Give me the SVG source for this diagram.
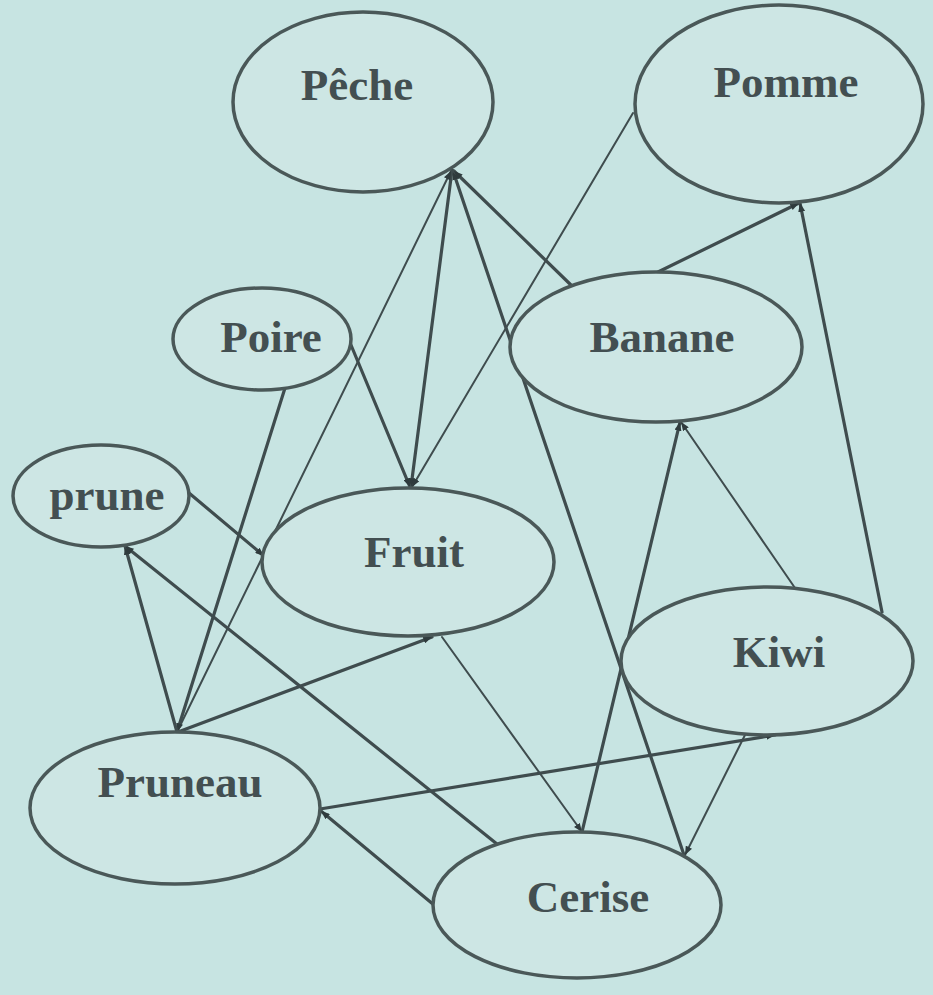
<svg xmlns="http://www.w3.org/2000/svg" width="933" height="995" viewBox="0 0 933 995">
<style>
.node ellipse{fill:#cde6e4;stroke:#4a5858;stroke-width:3.5}
.node text{font-family:"Liberation Serif","Times New Roman",serif;font-weight:bold;font-size:45px;fill:#434f51;text-anchor:middle}
.e{stroke:#3f4c4e;stroke-width:3.2;fill:none;stroke-linecap:round}
.t{stroke-width:2}
</style>
<defs>
<marker id="arr" viewBox="0 0 10 8" refX="10" refY="4" markerWidth="9" markerHeight="7" markerUnits="userSpaceOnUse" orient="auto">
<path d="M0,0 L10,4 L0,8 z" fill="#2f3b3d"/>
</marker>
</defs>
<rect width="933" height="995" fill="#c7e4e2"/>
<g id="connectors">
<line class="e" x1="452" y1="170" x2="411" y2="487" marker-end="url(#arr)"/>
<line class="e t" x1="633" y1="113" x2="412" y2="487" marker-end="url(#arr)"/>
<line class="e" x1="351" y1="345" x2="410" y2="487" marker-end="url(#arr)"/>
<line class="e t" x1="177" y1="732" x2="451" y2="171" marker-end="url(#arr)"/>
<line class="e" x1="684" y1="855" x2="453" y2="171" marker-end="url(#arr)"/>
<line class="e" x1="572" y1="286" x2="454" y2="171" marker-end="url(#arr)"/>
<line class="e" x1="658" y1="272" x2="799" y2="203" marker-end="url(#arr)"/>
<line class="e" x1="882" y1="612" x2="800" y2="203" marker-end="url(#arr)"/>
<line class="e" x1="285" y1="388" x2="177" y2="732" marker-end="url(#arr)"/>
<line class="e" x1="189" y1="493" x2="264" y2="556" marker-end="url(#arr)"/>
<line class="e" x1="177" y1="732" x2="125" y2="546" marker-end="url(#arr)"/>
<line class="e" x1="497" y1="844" x2="125" y2="546" marker-end="url(#arr)"/>
<line class="e" x1="178" y1="732" x2="432" y2="637" marker-end="url(#arr)"/>
<line class="e" x1="320" y1="809" x2="775" y2="735" marker-end="url(#arr)"/>
<line class="e" x1="434" y1="905" x2="321" y2="811" marker-end="url(#arr)"/>
<line class="e t" x1="442" y1="637" x2="582" y2="832" marker-end="url(#arr)"/>
<line class="e" x1="582" y1="832" x2="680" y2="422" marker-end="url(#arr)"/>
<line class="e t" x1="795" y1="588" x2="681" y2="422" marker-end="url(#arr)"/>
<line class="e t" x1="745" y1="735" x2="685" y2="855" marker-end="url(#arr)"/>
</g>
<g id="peche" class="node"><ellipse cx="363" cy="102" rx="130" ry="90"/><text x="357" y="100">Pêche</text></g>
<g id="pomme" class="node"><ellipse cx="779" cy="104" rx="144" ry="99"/><text x="786" y="97">Pomme</text></g>
<g id="poire" class="node"><ellipse cx="262" cy="339" rx="89" ry="51"/><text x="271" y="352">Poire</text></g>
<g id="prune" class="node"><ellipse cx="101" cy="496" rx="88" ry="51"/><text x="107" y="510">prune</text></g>
<g id="banane" class="node"><ellipse cx="656" cy="347" rx="146" ry="75"/><text x="662" y="352">Banane</text></g>
<g id="fruit" class="node"><ellipse cx="408" cy="562" rx="146" ry="74"/><text x="414" y="567">Fruit</text></g>
<g id="kiwi" class="node"><ellipse cx="767" cy="661" rx="146" ry="74"/><text x="779" y="667">Kiwi</text></g>
<g id="pruneau" class="node"><ellipse cx="175" cy="808" rx="145" ry="76"/><text x="180" y="797">Pruneau</text></g>
<g id="cerise" class="node"><ellipse cx="577" cy="905" rx="144" ry="73"/><text x="588" y="912">Cerise</text></g>
</svg>
